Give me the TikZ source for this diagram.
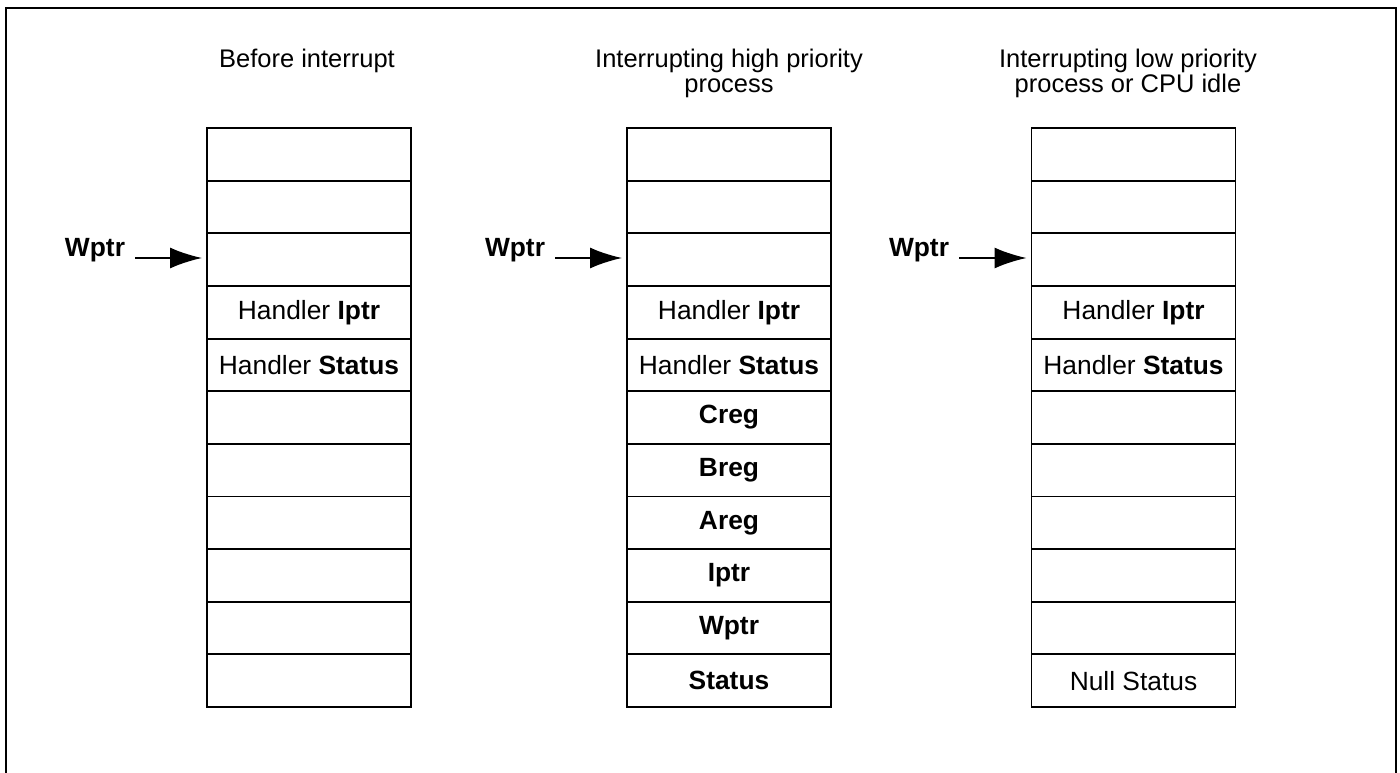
\documentclass[tikz,border=0pt]{standalone}
\usepackage{fontspec}
\setmainfont{Liberation Sans}
\usetikzlibrary{arrows.meta}
\usetikzlibrary{positioning}

\tikzset{
	cell/.style={draw, line width=1.1pt, minimum width=4.08cm, minimum height=1.053cm, inner sep=0pt, outer sep=0pt, font=\fontsize{15}{15}\selectfont},
	title/.style={align=center, anchor=north, inner sep=0pt},
	wlabel/.style={font=\fontsize{15}{15}\selectfont\bfseries, inner sep=0.2cm},
	ptr/.style={-{Latex[length=0.64cm,width=0.42cm]}, line width=1.1pt, shorten >=0.1cm},
	frame/.style={line width=1.2pt}
}

\begin{document}
\begin{tikzpicture}[x=0.02cm, y=-0.02cm, font=\fontsize{14.5}{14}\selectfont]
	\useasboundingbox (0,0) rectangle (1400,773);
	\draw[frame] (6,800) -- (6,8) -- (1396,8) -- (1396,800);
	
	% titles
	\node[title] (t1) at (307,49) {Before interrupt};
	\node[title] (t2) at (729,49) {Interrupting high priority\\process};
	\node[title] (t3) at (1128,49) {Interrupting low priority\\process or CPU idle};
	
	% stacks
	\foreach \r/\t in {1/,2/,3/,4/Handler \textbf{Iptr},5/Handler \textbf{Status},6/,7/,8/,9/,10/,11/}
		\node[cell] (a\r) at (309,{128+52.64*(\r-0.5)}) {\t};
	\foreach \r/\t in {1/,2/,3/,4/Handler \textbf{Iptr},5/Handler \textbf{Status},6/\textbf{Creg},7/\textbf{Breg},8/\textbf{Areg},9/\textbf{Iptr},10/\textbf{Wptr},11/\textbf{Status}}
		\node[cell] (b\r) at (729,{128+52.64*(\r-0.5)}) {\t};
	\foreach \r/\t in {1/,2/,3/,4/Handler \textbf{Iptr},5/Handler \textbf{Status},6/,7/,8/,9/,10/,11/Null Status}
		\node[cell] (c\r) at (1133.5,{128+52.64*(\r-0.5)}) {\t};
	
	% work pointers
	\node[wlabel] (w1) at (95,250) {Wptr};
	\node[wlabel] (w2) at (515,250) {Wptr};
	\node[wlabel] (w3) at (919,250) {Wptr};
	
	\draw[ptr] (w1.east |- 0,258) -- (a3.west |- 0,258);
	\draw[ptr] (w2.east |- 0,258) -- (b3.west |- 0,258);
	\draw[ptr] (w3.east |- 0,258) -- (c3.west |- 0,258);
\end{tikzpicture}
\end{document}
